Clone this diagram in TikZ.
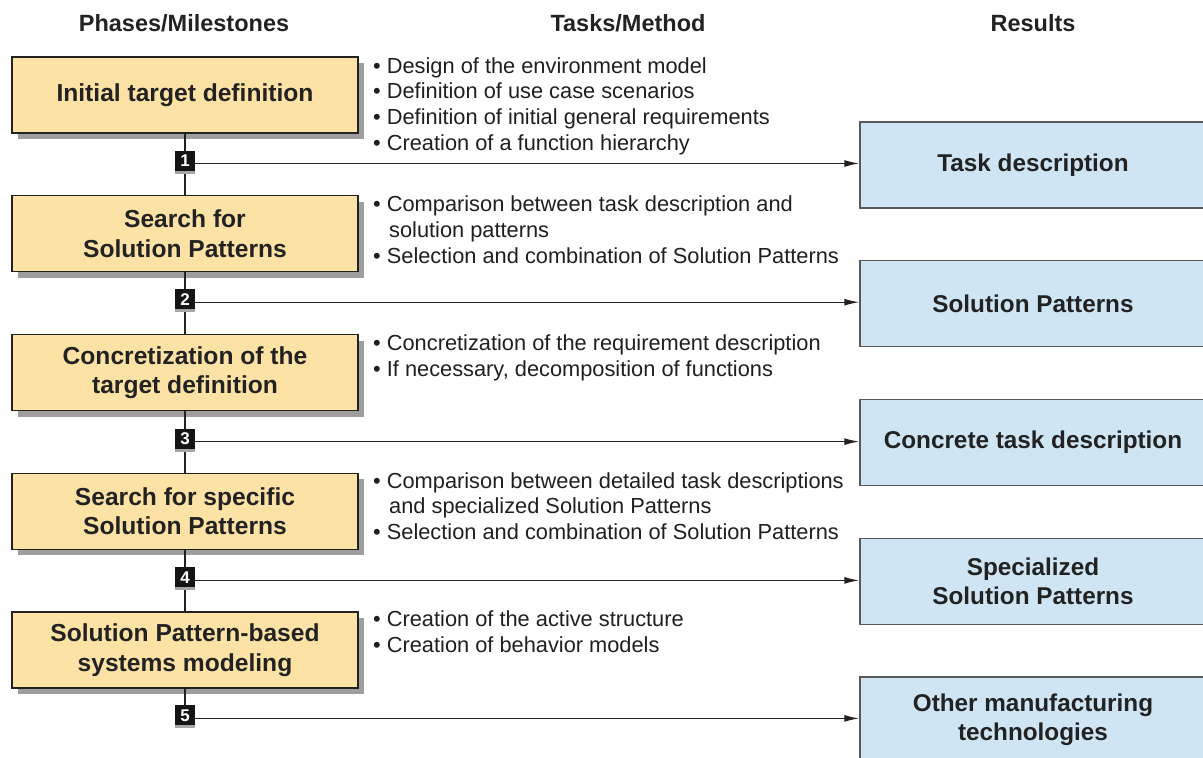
\documentclass[tikz,border=0pt]{standalone}
\usepackage{fontspec}
\setmainfont{Liberation Sans}
\usetikzlibrary{shadows,arrows.meta}
\definecolor{phasefill}{HTML}{FDE2A6}
\definecolor{resfill}{HTML}{CFE5F4}
\definecolor{inkdark}{HTML}{222222}
\begin{document}
\begin{tikzpicture}[x=1pt,y=-1pt,
  phase/.style={draw=inkdark, line width=1.4pt, fill=phasefill,
    minimum width=346pt, minimum height=76pt, inner sep=0pt, align=center,
    font=\fontsize{24.6}{29.5}\selectfont\bfseries, text=inkdark,
    drop shadow={shadow xshift=6pt, shadow yshift=-6pt, fill=black!38, opacity=1}},
  result/.style={draw=black!65, line width=1.4pt, fill=resfill,
    minimum width=346pt, minimum height=86pt, inner sep=0pt, align=center,
    font=\fontsize{24.3}{29.5}\selectfont\bfseries, text=inkdark},
  mstone/.style={fill=black!92, minimum width=20pt, minimum height=20pt, inner sep=0pt,
    text=white, font=\fontsize{17}{17}\selectfont\bfseries,
    drop shadow={shadow xshift=0pt, shadow yshift=-3pt, fill=black!35, opacity=1}},
  stem/.style={line width=2.2pt, draw=inkdark},
  arr/.style={line width=1.4pt, draw=inkdark, -{Latex[length=15pt,width=7pt]}},
  item/.style={anchor=base west, inner sep=0pt,
    font=\fontsize{21.8}{25.8}\selectfont, text=black!88},
  head/.style={anchor=base, inner sep=0pt,
    font=\fontsize{23.5}{28}\selectfont\bfseries, text=inkdark}
]
\useasboundingbox (0,0) rectangle (1203,758);
\clip (0,0) rectangle (1203,758);

% column headings
\node[head] (h1) at (184,31.5) {Phases/Milestones};
\node[head] (h2) at (628,31.5) {Tasks/Method};
\node[head] (h3) at (1033,31.5) {Results};

% phases
\node[phase] (p1) at (185,95)     {Initial target definition};
\node[phase] (p2) at (185,233.75) {Search for\\Solution Patterns};
\node[phase] (p3) at (185,372.5)  {Concretization of the\\target definition};
\node[phase] (p4) at (185,511.25) {Search for specific\\Solution Patterns};
\node[phase] (p5) at (185,650)    {Solution Pattern-based\\systems modeling};

% results
\node[result] (r1) at (1033,165)    {Task description};
\node[result] (r2) at (1033,303.75) {Solution Patterns};
\node[result] (r3) at (1033,442.5)  {Concrete task description};
\node[result] (r4) at (1033,581.25) {Specialized\\Solution Patterns};
\node[result] (r5) at (1033,720)    {Other manufacturing\\technologies};

% vertical process line
\coordinate (s5) at (185,718);
\draw[stem] (p1.south) -- (p2.north);
\draw[stem] (p2.south) -- (p3.north);
\draw[stem] (p3.south) -- (p4.north);
\draw[stem] (p4.south) -- (p5.north);
\draw[stem] (p5.south) -- (s5);

% milestones
\node[mstone] (m1) at (185,160.5) {1};
\node[mstone] (m2) at (185,299.2) {2};
\node[mstone] (m3) at (185,438.6) {3};
\node[mstone] (m4) at (185,577.4) {4};
\node[mstone] (m5) at (185,715.4) {5};

% milestone -> result
\draw[arr] ([yshift=-3pt]m1.east) -- ([yshift=-3pt]m1.east -| r1.west);
\draw[arr] ([yshift=-3pt]m2.east) -- ([yshift=-3pt]m2.east -| r2.west);
\draw[arr] ([yshift=-3pt]m3.east) -- ([yshift=-3pt]m3.east -| r3.west);
\draw[arr] ([yshift=-3pt]m4.east) -- ([yshift=-3pt]m4.east -| r4.west);
\draw[arr] ([yshift=-3pt]m5.east) -- ([yshift=-3pt]m5.east -| r5.west);

% tasks / methods
\node[item] (t1a) at (373,73)    {• Design of the environment model};
\node[item] (t1b) at (373,98.8)  {• Definition of use case scenarios};
\node[item] (t1c) at (373,124.6) {• Definition of initial general requirements};
\node[item] (t1d) at (373,150.4) {• Creation of a function hierarchy};

\node[item] (t2a) at (373,211.5) {• Comparison between task description and};
\node[item] (t2b) at (389,237.3) {solution patterns};
\node[item] (t2c) at (373,263.1) {• Selection and combination of Solution Patterns};

\node[item] (t3a) at (373,350.5) {• Concretization of the requirement description};
\node[item] (t3b) at (373,376.3) {• If necessary, decomposition of functions};

\node[item] (t4a) at (373,488)   {• Comparison between detailed task descriptions};
\node[item] (t4b) at (389,513.8) {and specialized Solution Patterns};
\node[item] (t4c) at (373,539.6) {• Selection and combination of Solution Patterns};

\node[item] (t5a) at (373,626.5) {• Creation of the active structure};
\node[item] (t5b) at (373,652.3) {• Creation of behavior models};
\end{tikzpicture}
\end{document}
